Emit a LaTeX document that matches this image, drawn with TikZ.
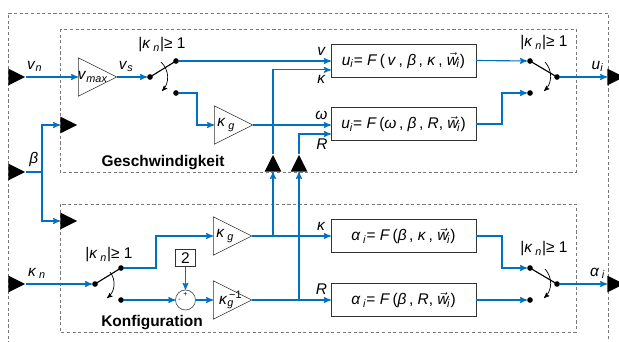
\documentclass[tikz,border=0pt]{standalone}
\usepackage{fontspec}
\setmainfont{Liberation Sans}
\usetikzlibrary{positioning,arrows,shapes.geometric}
\definecolor{sigblue}{RGB}{0,112,192}
\definecolor{framegray}{RGB}{120,120,120}
\newcommand{\var}[1]{\textit{#1}}
\newcommand{\idx}[1]{\textsubscript{\textit{#1}}}
\newcommand{\vw}{\ensuremath{\vec{\textit{w}}}}
\newcommand{\cond}{|\var{κ}\,\idx{n}|≥ 1}

\begin{document}
\begin{tikzpicture}[x=0.025cm,y=-0.025cm,font=\fontsize{11}{13}\selectfont]
  \tikzstyle{frame}=[draw=framegray,dash pattern=on 2.2pt off 1.8pt,line width=0.6pt]
  \tikzstyle{wire}=[draw=sigblue,line width=0.8pt]
  \tikzstyle{sig}=[wire,-stealth']
  \tikzstyle{amp}=[isosceles triangle,isosceles triangle stretches,draw=black!80,minimum width=0.96cm,minimum height=0.96cm,inner sep=0pt]
  \tikzstyle{port}=[isosceles triangle,isosceles triangle stretches,fill=black,minimum width=0.42cm,minimum height=0.42cm,inner sep=0pt]
  \tikzstyle{fbox}=[draw=black!80,minimum width=3.62cm,minimum height=0.82cm,inner sep=0pt]
  \tikzstyle{dot}=[circle,fill=black,minimum size=4pt,inner sep=0pt]
  \tikzstyle{turn}=[-stealth',line width=0.5pt]
  \clip (0,0) rectangle (619,342);

  % frames
  \draw[frame] (8,350) -- (8,13) -- (608,13) -- (608,350);
  \draw[frame] (60,29) rectangle (576,172);
  \draw[frame] (60,204) rectangle (576,332);
  \node[font=\bfseries\fontsize{11}{13}\selectfont] (tgesch) at (163,163) {Geschwindigkeit};
  \node[font=\bfseries\fontsize{11}{13}\selectfont] (tkonf) at (152,323) {Konfiguration};

  % ports
  \node[port,anchor=lower side] (vn) at (8,77) {};
  \node[port,anchor=lower side] (beta) at (8,172) {};
  \node[port,anchor=lower side] (kn) at (8,284) {};
  \node[port,anchor=lower side] (inb1) at (60,125) {};
  \node[port,anchor=lower side] (inb2) at (60,221) {};
  \node[port,anchor=lower side,shape border rotate=90] (upk) at (273,172) {};
  \node[port,anchor=lower side,shape border rotate=90] (upr) at (299,172) {};
  \node[port,anchor=lower side] (ui) at (607,77) {};
  \node[port,anchor=lower side] (ai) at (607,284) {};

  % gains
  \node[amp,anchor=lower side,label={[xshift=2pt]center:\var{v}\idx{max}}] (vmax) at (78,77) {};
  \node[amp,anchor=lower side,label={[xshift=0pt]center:\var{κ}\,\idx{g}}] (kg1) at (214,125) {};
  \node[amp,anchor=lower side,label={[xshift=0pt]center:\var{κ}\,\idx{g}}] (kg2) at (213,236) {};
  \node[amp,anchor=lower side,label={[xshift=1pt]center:\var{κ}\rlap{\textsuperscript{\,−1}}\textsubscript{\var{g}}}] (kg3) at (213,300) {};

  % blocks
  \node[fbox] (uv) at (403.5,60.5) {\var{u}\idx{i}= \var{F}\,(\,\var{v}\,, \var{β}\,, \var{κ}\,, \vw\kern-1pt\idx{i})};
  \node[fbox] (uw) at (403.5,124) {\var{u}\idx{i}= \var{F}\,(\var{ω}\,, \var{β}\,, \var{R}, \vw\kern-1pt\idx{i})};
  \node[fbox] (av) at (403.5,236) {\var{α}\,\idx{i}= \var{F}\,(\var{β}\,, \var{κ}\,, \vw\kern-1pt\idx{i})};
  \node[fbox] (ar) at (403.5,300) {\var{α}\,\idx{i}= \var{F}\,(\var{β}\,, \var{R}, \vw\kern-1pt\idx{i})};

  \node[circle,draw=black!80,minimum size=0.5cm,inner sep=0pt] (sum) at (185.5,300) {};
  \node[font=\tiny,inner sep=0pt] (splus) at ([yshift=-3.5pt]sum.north) {+};
  \node[font=\tiny,inner sep=0pt] (sminus) at ([xshift=3pt]sum.west) {-};
  \node[draw=black!80,minimum width=0.5cm,minimum height=0.42cm,inner sep=0pt] (two) at (185.5,258) {2};

  % switches
  \node[dot] (s1p) at (150,77) {};
  \node[dot] (s1a) at (176,61) {};
  \node[dot] (s1b) at (176,93) {};
  \node[dot] (s2a) at (530,61) {};
  \node[dot] (s2b) at (530,93) {};
  \node[dot] (s2p) at (557,77) {};
  \node[dot] (s3p) at (95,284) {};
  \node[dot] (s3a) at (121,268) {};
  \node[dot] (s3b) at (121,300) {};
  \node[dot] (s4a) at (530,268) {};
  \node[dot] (s4b) at (530,300) {};
  \node[dot] (s4p) at (557,284) {};
  \node (c1) at (162,45) {\cond};
  \node (c2) at (544,43) {\cond};
  \node (c3) at (109,255) {\cond};
  \node (c4) at (544,249) {\cond};
  \draw[line width=0.8pt] (s1p.center) -- (s1a.center);
  \draw[line width=0.8pt] (s2a.center) -- (s2p.center);
  \draw[line width=0.8pt] (s3p.center) -- (s3a.center);
  \draw[line width=0.8pt] (s4a.center) -- (s4p.center);
  \coordinate (r1a) at (161,62); \coordinate (r1b) at (162,91);
  \coordinate (r2a) at (545,62); \coordinate (r2b) at (544,91);
  \coordinate (r3a) at (110,272); \coordinate (r3b) at (107,298);
  \coordinate (r4a) at (545,269); \coordinate (r4b) at (544,298);
  \draw[turn] (r1a) to[bend left=45] (r1b);
  \draw[turn] (r2a) to[bend left=45] (r2b);
  \draw[turn] (r3a) to[bend left=45] (r3b);
  \draw[turn] (r4a) to[bend left=45] (r4b);

  % signals, speed part
  \draw[sig] (vn.apex) -- node[above,pos=0.17] {\var{v}\idx{n}} (vmax.lower side);
  \draw[sig] (vmax.apex) -- node[above,pos=0.3] {\var{v}\idx{s}} (s1p);
  \draw[sig] (s1a) -- node[above,pos=0.94] {\var{v}} (s1a -| uv.west);
  \draw[sig] (s1b) -| (197,109) |- (kg1.lower side);
  \draw[sig] (kg1.apex) -- node[above,pos=0.88] {\var{ω}} (kg1.apex -| uw.west);
  \draw[sig] (upk.apex) |- node[below,pos=0.92] {\var{κ}} ([yshift=-6.7pt]uv.west);
  \draw[sig] (upr.apex) |- node[below,pos=0.86] {\var{R}} ([yshift=-7.1pt]uw.west);
  \draw[sig] (uv.east) -- (s2a);
  \draw[sig] (uw.east) -| (502,108) |- (s2b);
  \draw[sig] (s2p) -- node[above,pos=0.8] {\var{u}\idx{i}} (ui.lower side);

  % beta
  \coordinate (bsplit) at (42,172);
  \draw[wire] (beta.apex) -- node[above] {\var{β}} (bsplit);
  \draw[sig] (bsplit) |- (inb1.lower side);
  \draw[sig] (bsplit) |- (inb2.lower side);

  % signals, configuration part
  \draw[sig] (kn.apex) -- node[above,pos=0.17] {\var{κ}\,\idx{n}} (s3p);
  \draw[sig] (s3a) -| (156,250) |- (kg2.lower side);
  \draw[sig] (kg2.apex) -- node[above,pos=0.88] {\var{κ}} (av.west);
  \draw[sig] (upk |- kg2.apex) -- (upk.lower side);
  \draw[sig] (s3b) -- (sum.west);
  \draw[sig] (two) -- (sum.north);
  \draw[sig] (sum.east) -- (kg3.lower side);
  \draw[sig] (kg3.apex) -- node[above,pos=0.88] {\var{R}} (ar.west);
  \draw[sig] (upr |- kg3.apex) -- (upr.lower side);
  \draw[sig] (av.east) -| (502,252) |- (s4a);
  \draw[sig] (ar.east) -- (s4b);
  \draw[sig] (s4p) -- node[above,pos=0.8] {\var{α}\,\idx{i}} (ai.lower side);
\end{tikzpicture}
\end{document}
